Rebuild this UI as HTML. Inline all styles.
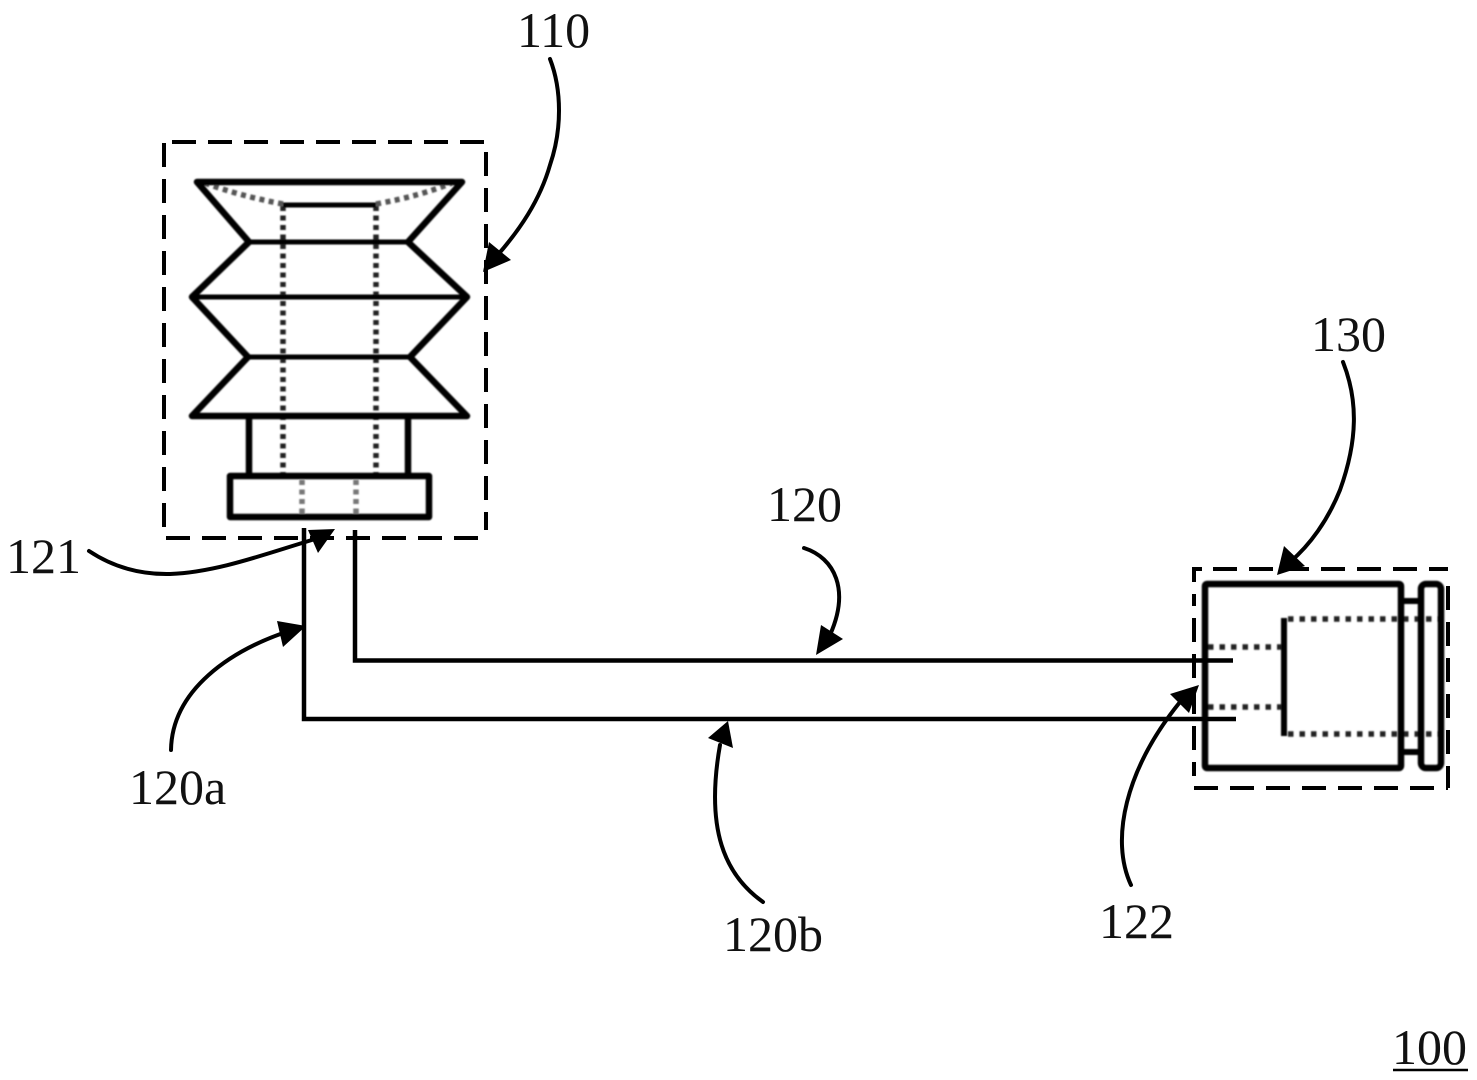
<!DOCTYPE html>
<html>
<head>
<meta charset="utf-8">
<style>
html,body{margin:0;padding:0;background:#fff;}
svg{display:block;}
text{font-family:"Liberation Serif",serif;font-size:50px;fill:#111;}
</style>
</head>
<body>
<svg width="1477" height="1080" viewBox="0 0 1477 1080" xmlns="http://www.w3.org/2000/svg">
<defs><filter id="b" x="-5%" y="-5%" width="110%" height="110%"><feGaussianBlur stdDeviation="0.8"/></filter></defs>
<rect width="1477" height="1080" fill="#fff"/>

<!-- dashed boxes -->
<g stroke="#000" stroke-width="4" fill="none" stroke-dasharray="24 12">
<line x1="172" y1="142" x2="486" y2="142"/>
<line x1="486" y1="152" x2="486" y2="530"/>
<line x1="164" y1="143" x2="164" y2="530"/>
<line x1="166" y1="538" x2="486" y2="538"/>
<line x1="1213" y1="569" x2="1448" y2="569"/>
<line x1="1448" y1="586" x2="1448" y2="788"/>
<line x1="1194" y1="594" x2="1194" y2="776" stroke-dashoffset="12"/>
<line x1="1194" y1="788" x2="1448" y2="788"/>
</g>
<path d="M1194 582V569H1202" stroke="#000" stroke-width="4" fill="none"/>

<!-- insulator 110 -->
<g filter="url(#b)" fill="none" stroke="#000" stroke-linejoin="round">
<g stroke="#222" stroke-width="5.5" stroke-dasharray="5 4.5">
<line x1="283" y1="206" x2="283" y2="476"/>
<line x1="376" y1="206" x2="376" y2="476"/>
<path d="M283 204Q240 196 205 183" stroke="#555"/>
<path d="M376 204Q420 196 452 183" stroke="#555"/>
<line x1="302" y1="480" x2="302" y2="516" stroke="#777"/>
<line x1="356" y1="480" x2="356" y2="516" stroke="#777"/>
</g>
<g stroke-width="5">
<line x1="283" y1="205" x2="376" y2="205"/>
<line x1="249" y1="242" x2="408" y2="242"/>
<line x1="192" y1="297" x2="467" y2="297"/>
<line x1="248" y1="357" x2="410" y2="357"/>
</g>
<path d="M197 182H462L408 242L467 297L410 357L467 416H192L248 357L192 297L249 242Z" stroke-width="6.5"/>
<path d="M249 416V476M408 416V476" stroke-width="6.5"/>
<rect x="230" y="476" width="199" height="41" stroke-width="6.5"/>
</g>

<!-- device 130 -->
<g filter="url(#b)" fill="none" stroke="#000" stroke-linejoin="round">
<g stroke="#222" stroke-width="5.5" stroke-dasharray="5.5 6">
<line x1="1288" y1="619" x2="1440" y2="619"/>
<line x1="1288" y1="734" x2="1440" y2="734"/>
<line x1="1208" y1="647" x2="1284" y2="647"/>
<line x1="1208" y1="707" x2="1284" y2="707"/>
</g>
<rect x="1205" y="584" width="196" height="184" stroke-width="6.5" rx="2"/>
<rect x="1421" y="584" width="20" height="184" rx="5" stroke-width="6.5"/>
<path d="M1401 601H1421M1401 752H1421" stroke-width="6"/>
<line x1="1284" y1="618" x2="1284" y2="736" stroke-width="6"/>
</g>

<!-- wires -->
<g fill="none" stroke="#000" stroke-width="4.5">
<path d="M355 530V660.5H1233"/>
<path d="M304 528V719H1236"/>
</g>

<!-- leader arrows -->
<g fill="none" stroke="#000" stroke-width="4" stroke-linecap="round">
<path d="M89 551Q125 575 170 574C220 572 270 552 322 537"/>
<path d="M171 750C172 690 230 650 292 630"/>
<path d="M550 59C562 90 562 130 550 165C540 200 520 230 495 258"/>
<path d="M804 548C835 558 850 590 830 635"/>
<path d="M763 902C725 875 705 830 720 745"/>
<path d="M1131 885C1110 840 1125 770 1180 702"/>
<path d="M1343 362C1358 400 1358 440 1340 490C1328 520 1310 545 1290 562"/>
</g>
<g fill="#000">
<polygon points="335,529 308,530 318,553"/>
<polygon points="306,626 277,621 283,647"/>
<polygon points="483,272 489,242 511,260"/>
<polygon points="816,655 821,625 843,639"/>
<polygon points="728,721 708,738 733,748"/>
<polygon points="1199,685 1170,694 1189,713"/>
<polygon points="1277,575 1284,546 1305,566"/>
</g>

<!-- labels -->
<text x="517" y="47">110</text>
<text x="6" y="573">121</text>
<text x="129" y="804">120a</text>
<text x="767" y="521">120</text>
<text x="723" y="951">120b</text>
<text x="1099" y="938">122</text>
<text x="1311" y="351">130</text>
<text x="1392" y="1064">100</text>
<line x1="1393" y1="1070" x2="1468" y2="1070" stroke="#000" stroke-width="2.5"/>
</svg>
</body>
</html>
